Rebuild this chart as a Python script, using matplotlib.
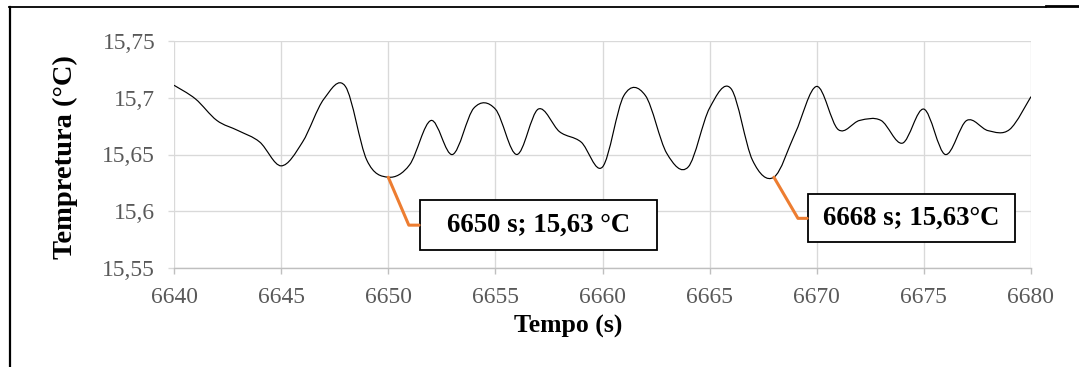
import matplotlib
matplotlib.use("Agg")
import matplotlib.pyplot as plt
from matplotlib.path import Path
from matplotlib.patches import PathPatch, Rectangle
from matplotlib.lines import Line2D
import numpy as np

# ---- data ----
time_s = list(range(6640, 6681))
temp_c = [15.711, 15.699, 15.680, 15.671, 15.661, 15.640, 15.661, 15.699, 15.710, 15.645, 15.630,
          15.641, 15.680, 15.650, 15.691, 15.690, 15.650, 15.690, 15.670, 15.661, 15.639,
          15.702, 15.702, 15.651, 15.639, 15.691, 15.708, 15.645, 15.630, 15.669, 15.710,
          15.672, 15.680, 15.680, 15.660, 15.690, 15.650, 15.680, 15.671, 15.672, 15.701]

x_ticks = [6640, 6645, 6650, 6655, 6660, 6665, 6670, 6675, 6680]
y_ticks = [15.55, 15.60, 15.65, 15.70, 15.75]
y_tick_labels = ["15,55", "15,6", "15,65", "15,7", "15,75"]

callout_points = [(6650, 15.63), (6668, 15.63)]
callout_texts = ["6650 s; 15,63 °C", "6668 s; 15,63°C"]

# ---- style ----
SERIF = ["Liberation Serif", "DejaVu Serif"]
GRID = "#d9d9d9"
AXIS = "#bfbfbf"
TICK_TXT = "#595959"
ORANGE = "#ED7D31"

W, H = 1079, 367
fig = plt.figure(figsize=(W / 100, H / 100), dpi=100)
ax = fig.add_axes([174 / W, 1 - 268 / H, (1031 - 174) / W, (268 - 41) / H])

ax.set_xlim(x_ticks[0], x_ticks[-1])
ax.set_ylim(y_ticks[0], y_ticks[-1])
ax.set_xticks(x_ticks)
ax.set_xticklabels([str(t) for t in x_ticks])
ax.set_yticks(y_ticks)
ax.set_yticklabels(y_tick_labels)
for lab in ax.get_xticklabels() + ax.get_yticklabels():
    lab.set_fontfamily(SERIF)
    lab.set_fontsize(16.9)
    lab.set_color(TICK_TXT)

ax.grid(True, color=GRID, linewidth=0.95)
ax.set_axisbelow(True)
for s in ["top", "right", "left"]:
    ax.spines[s].set_visible(False)
ax.spines["bottom"].set_color(AXIS)
ax.spines["bottom"].set_linewidth(1.0)
ax.tick_params(axis="x", direction="out", length=4.5, width=1.0, color=AXIS, pad=9)
ax.tick_params(axis="y", direction="out", length=4.5, width=0.95, color=GRID, pad=9)

# smooth line (Excel-like Catmull-Rom Bezier through the points)
x = np.asarray(time_s, float)
y = np.asarray(temp_c, float)
P = np.column_stack([x, y])
Pext = np.vstack([P[0], P, P[-1]])
verts = [tuple(P[0])]
codes = [Path.MOVETO]
for i in range(len(P) - 1):
    p0, p1, p2, p3 = Pext[i], Pext[i + 1], Pext[i + 2], Pext[i + 3]
    c1 = p1 + (p2 - p0) / 6.0
    c2 = p2 - (p3 - p1) / 6.0
    verts += [tuple(c1), tuple(c2), tuple(p2)]
    codes += [Path.CURVE4] * 3
ax.add_patch(PathPatch(Path(verts, codes), facecolor="none", edgecolor="black",
                       linewidth=0.85, zorder=3))

# callouts (box layout in data units: x0, x1, y0, y1)
box_layout = [(6651.47, 6662.53, 15.5657, 15.6098), (6669.58, 6679.25, 15.5725, 15.615)]
leader_angle = [-66.8, -59.7]
for (px, py), txt, (bx0, bx1, by0, by1), ang in zip(callout_points, callout_texts,
                                                   box_layout, leader_angle):
    rect = Rectangle((bx0, by0), bx1 - bx0, by1 - by0, facecolor="white",
                     edgecolor="black", linewidth=1.3, zorder=4)
    ax.add_patch(rect)
    ax.annotate(txt, xy=(px, py), xytext=((bx0 + bx1) / 2, (by0 + by1) / 2),
                ha="center", va="center", fontfamily=SERIF, fontsize=19.3,
                fontweight="bold", color="black", zorder=5,
                arrowprops=dict(arrowstyle="-", color=ORANGE, linewidth=2.2,
                                shrinkA=0, shrinkB=0, patchA=rect,
                                connectionstyle=f"angle,angleA=0,angleB={ang},rad=0"))

# axis titles
fig.text(568 / W, 1 - 326 / H, "Tempo (s)", ha="center", va="center",
         fontfamily=SERIF, fontsize=18.5, fontweight="bold")
fig.text(65 / W, 1 - 157 / H, "Tempretura (°C)", ha="center", va="center",
         rotation=90, fontfamily=SERIF, fontsize=20.5, fontweight="bold")

# outer frame fragments
fig.add_artist(Line2D([9.5 / W, 9.5 / W], [0, 1 - 7 / H], color="black", linewidth=1.6,
                      transform=fig.transFigure))
fig.add_artist(Line2D([9 / W, 1046 / W], [1 - 7.3 / H, 1 - 7.3 / H], color="black",
                      linewidth=1.3, transform=fig.transFigure))
fig.add_artist(Line2D([1046 / W, 1], [1 - 6.2 / H, 1 - 6.2 / H], color="black",
                      linewidth=2.0, transform=fig.transFigure))

fig.savefig("out.png", dpi=100)
